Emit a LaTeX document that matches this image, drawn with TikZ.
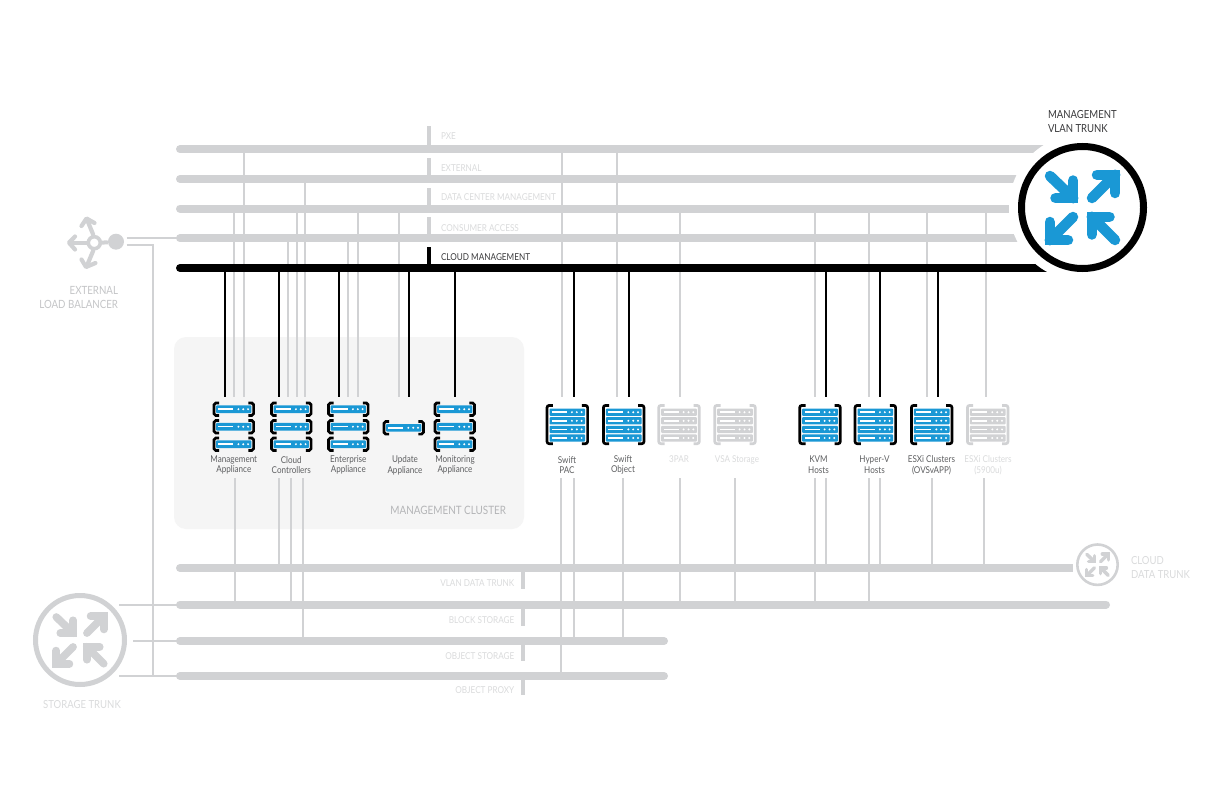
\documentclass[tikz,border=0pt]{standalone}
\usepackage{fontspec}
\setmainfont[FakeStretch=0.86]{Lato}
\definecolor{bargray}{HTML}{D1D2D4}
\definecolor{pale}{HTML}{DADBDC}
\definecolor{midgray}{HTML}{C4C5C7}
\definecolor{clustertxt}{HTML}{B4B5B7}
\definecolor{dark}{HTML}{3A3A3C}
\definecolor{srvtxt}{HTML}{5E5F61}
\definecolor{blue}{HTML}{1A98D5}
\definecolor{panel}{HTML}{F5F5F5}
\tikzset{
  busline/.style={line width=8pt,line cap=round,color=bargray},
  blackbus/.style={busline,color=black},
  glink/.style={line width=2pt,color=bargray},
  blink/.style={line width=2pt,color=black},
  tab/.style={line width=4pt,color=bargray},
  srvbox/.style={minimum width=40pt,minimum height=81pt,inner sep=0pt,outer sep=0pt},
  txt/.style={inner sep=0pt,outer sep=0pt,font=\fontsize{9.5}{11}\selectfont},
  busL/.style={txt,anchor=base west,text=pale},
  busR/.style={txt,anchor=base east,text=pale},
  trunktxt/.style={txt,font=\fontsize{11.1}{14}\selectfont,align=left},
  srvtxtstyle/.style={inner sep=0pt,outer sep=0pt,align=center,font=\fontsize{9.4}{10.7}\selectfont,anchor=center}
}
% arrows of a trunk: #1 node, #2 scale, #3 colour
\newcommand\trunkarrows[3]{%
 \begin{scope}[shift={(#1)},scale=#2,color=#3,line width=#2*10.5pt,line cap=round,line join=miter]
  \draw (-32.5,-31.5) -- (-9.3,-9.3); \draw (-9.3,-27) -- (-9.3,-9.3) -- (-27,-9.3);
  \draw (9.5,-9.5) -- (32.7,-32.7);   \draw (14.5,-32.7) -- (32.7,-32.7) -- (32.7,-14.5);
  \draw (-9.5,9.5) -- (-32.7,32.7);   \draw (-14.5,32.7) -- (-32.7,32.7) -- (-32.7,14.5);
  \draw (32.5,32.5) -- (9.3,9.3);     \draw (9.3,27) -- (9.3,9.3) -- (27,9.3);
 \end{scope}}
% one bar with dash and dots
\newcommand\srvbar[5]{% x, y, halfwidth, halfheight, colour
 \fill[#5,rounded corners=0.8pt] (#1-#3,#2-#4) rectangle (#1+#3,#2+#4);
 \draw[white,line width=1.5pt] (#1-15.5,#2) -- (#1-0.5,#2);
 \fill[white] (#1+4.6,#2) circle (1.1) (#1+9.5,#2) circle (1.1) (#1+14.3,#2) circle (1.1);}
\newcommand\brackets[5]{% x, y, halfw, halfh, colour
 \draw[#5,line width=2.7pt,rounded corners=1.8pt] (#1-#3+5.2,#2-#4) -- (#1-#3,#2-#4) -- (#1-#3,#2+#4) -- (#1-#3+5.2,#2+#4);
 \draw[#5,line width=2.7pt,rounded corners=1.8pt] (#1+#3-5.2,#2-#4) -- (#1+#3,#2-#4) -- (#1+#3,#2+#4) -- (#1+#3-5.2,#2+#4);}
\newcommand\unit[2]{\brackets{#1}{#2}{19.8}{6.3}{black}\srvbar{#1}{#2}{17.6}{3.8}{blue}}
\newcommand\rack[4]{% name, x, bracket colour, bar colour
 \node[srvbox] (#1) at (#2,437.5) {};
 \draw[#3,line width=2.7pt,rounded corners=2.2pt] (#2-14.5,405.4) -- (#2-20.3,405.4) -- (#2-20.3,443.7) -- (#2-14.5,443.7);
 \draw[#3,line width=2.7pt,rounded corners=2.2pt] (#2+14.5,405.4) -- (#2+20.3,405.4) -- (#2+20.3,443.7) -- (#2+14.5,443.7);
 \srvbar{#2}{412.2}{17.8}{3.6}{#4}\srvbar{#2}{420.8}{17.8}{3.6}{#4}\srvbar{#2}{429.4}{17.8}{3.6}{#4}\srvbar{#2}{438}{17.8}{3.6}{#4}}
\newcommand\triple[2]{% name, x
 \node[srvbox] (#1) at (#2,437.5) {};
 \unit{#2}{409.2}\unit{#2}{426.7}\unit{#2}{444.2}}
\newcommand\gup[3]{\draw[glink] (#1,0 |- #2) -- (#1,0 |- #3.north);}
\newcommand\bup[2]{\draw[blink] (#1,0 |- cloud) -- (#1,0 |- #2.north);}
\newcommand\gdn[3]{\draw[glink] (#1,0 |- #2.south) -- (#1,0 |- #3);}
\begin{document}
\begin{tikzpicture}[x=1pt,y=-1pt]
\useasboundingbox (0,0) rectangle (1224,792);
\fill[white] (0,0) rectangle (1224,792);
% cluster panel
\fill[panel,rounded corners=12pt] (174,337) rectangle (524,529);
\node[txt,anchor=base east,text=clustertxt,font=\fontsize{11.5}{12}\selectfont] (clusterlbl) at (506,514) {MANAGEMENT CLUSTER};
% bus anchors
\coordinate (pxe) at (180,149.3);
\coordinate (ext) at (180,179);
\coordinate (dcm) at (180,208.5);
\coordinate (con) at (180,238.3);
\coordinate (cloud) at (180,268);
\coordinate (vlan) at (180,568);
\coordinate (block) at (180,604.5);
\coordinate (obj) at (180,641);
\coordinate (proxy) at (180,676);
\coordinate (vlanE) at (1069,568);
\coordinate (blockE) at (1106,604.5);
\coordinate (objE) at (664,641);
\coordinate (proxyE) at (664,676);
\coordinate (mgmtc) at (1082.5,207.5);
% servers
\triple{mgmt}{233.8}
\triple{ctrl}{291.3}
\triple{entr}{348.3}
\node[srvbox] (upd) at (403.7,437.5) {};
\unit{403.7}{427.8}
\triple{mon}{454.7}
\rack{swpac}{567.3}{black}{blue}
\rack{swobj}{623.7}{black}{blue}
\rack{tpar}{679}{bargray}{bargray}
\rack{vsa}{735}{bargray}{bargray}
\rack{kvm}{820}{black}{blue}
\rack{hyv}{875.3}{black}{blue}
\rack{esx}{931.7}{black}{blue}
\rack{esy}{987.7}{bargray}{bargray}
% server labels
\node[srvtxtstyle,text=srvtxt] (l1) at (233.8,465) {Management\\Appliance};
\node[srvtxtstyle,text=srvtxt] (l2) at (291.3,465) {Cloud\\Controllers};
\node[srvtxtstyle,text=srvtxt] (l3) at (348.3,465) {Enterprise\\Appliance};
\node[srvtxtstyle,text=srvtxt] (l4) at (405,465) {Update\\Appliance};
\node[srvtxtstyle,text=srvtxt] (l5) at (455,465) {Monitoring\\Appliance};
\node[srvtxtstyle,text=srvtxt] (l6) at (567,465) {Swift\\PAC};
\node[srvtxtstyle,text=srvtxt] (l7) at (623,465) {Swift\\Object};
\node[srvtxtstyle,text=pale] (l8) at (679,459.6) {3PAR};
\node[srvtxtstyle,text=pale] (l9) at (737,459.6) {VSA Storage};
\node[srvtxtstyle,text=srvtxt] (l10) at (818.5,465) {KVM\\Hosts};
\node[srvtxtstyle,text=srvtxt] (l11) at (874.5,465) {Hyper-V\\Hosts};
\node[srvtxtstyle,text=srvtxt] (l12) at (931.5,465) {ESXi Clusters\\(OVSvAPP)};
\node[srvtxtstyle,text=pale] (l13) at (988,465) {ESXi Clusters\\(5900u)};
% upper grey connectors
\gup{244}{pxe}{mgmt}\gup{234}{dcm}{mgmt}
\gup{305}{ext}{ctrl}\gup{296.7}{dcm}{ctrl}\gup{287.7}{con}{ctrl}
\gup{348.3}{con}{entr}\gup{358}{dcm}{entr}
\gup{399}{dcm}{upd}
\gup{562}{pxe}{swpac}\gup{617}{pxe}{swobj}
\gup{680}{dcm}{tpar}
\gup{815}{dcm}{kvm}\gup{869.3}{dcm}{hyv}\gup{927.3}{dcm}{esx}\gup{985.7}{dcm}{esy}
% lower grey connectors
\gdn{235}{mgmt}{block}
\gdn{279.3}{ctrl}{vlan}\gdn{291}{ctrl}{block}\gdn{302.7}{ctrl}{obj}
\gdn{560.7}{swpac}{proxy}\gdn{573.7}{swpac}{obj}\gdn{623}{swobj}{obj}
\gdn{680}{tpar}{block}\gdn{734.7}{vsa}{block}
\gdn{815}{kvm}{block}\gdn{825.7}{kvm}{vlan}
\gdn{869}{hyv}{block}\gdn{879.7}{hyv}{vlan}
\gdn{931.7}{esx}{vlan}\gdn{984.3}{esy}{vlan}
% buses
\draw[busline] (pxe) -- (pxe -| mgmtc);
\draw[busline] (ext) -- (ext -| mgmtc);
\draw[busline] (dcm) -- (dcm -| mgmtc);
\draw[busline] (con) -- (con -| mgmtc);
\draw[busline] (vlan) -- (1000,568);
\draw[busline,line cap=butt] (1000,568) -- (1073,568);
\draw[busline] (block) -- (blockE);
\draw[busline] (obj) -- (objE);
\draw[busline] (proxy) -- (proxyE);
% tabs upper
\draw[tab] (429.3,126) -- (429.3 ,0 |- pxe);
\draw[tab] (429.3,158) -- (429.3,0 |- ext);
\draw[tab] (429.3,188) -- (429.3,0 |- dcm);
\draw[tab] (429.3,217) -- (429.3,0 |- con);
\draw[tab,color=black] (429.3,247) -- (429.3,0 |- cloud);
% tabs lower
\draw[tab] (522.7,0 |- vlan) -- (522.7,589);
\draw[tab] (522.7,0 |- block) -- (522.7,626);
\draw[tab] (522.7,0 |- obj) -- (522.7,661);
\draw[tab] (522.7,0 |- proxy) -- (522.7,695);
% black connectors + bus
\bup{224.5}{mgmt}\bup{279}{ctrl}\bup{339}{entr}\bup{409}{upd}\bup{455}{mon}
\bup{574}{swpac}\bup{628.7}{swobj}\bup{825.7}{kvm}\bup{879.7}{hyv}\bup{938.3}{esx}
\draw[blackbus] (cloud) -- (cloud -| mgmtc);
% bus labels
\node[busL] (tpxe) at (441,139.5) {PXE};
\node[busL] (text) at (441,171) {EXTERNAL};
\node[busL] (tdcm) at (441,200.4) {DATA CENTER MANAGEMENT};
\node[busL] (tcon) at (441,231) {CONSUMER ACCESS};
\node[busL,text=dark] (tclo) at (441,260) {CLOUD MANAGEMENT};
\node[busR] (tvla) at (514.3,586) {VLAN DATA TRUNK};
\node[busR] (tblo) at (514.3,623.4) {BLOCK STORAGE};
\node[busR] (tobj) at (514.3,659) {OBJECT STORAGE};
\node[busR] (tpro) at (514.3,693.7) {OBJECT PROXY};
% management trunk
\fill[white] (mgmtc) circle (73.5);
\node[circle,draw=black,line width=7pt,minimum size=122pt,inner sep=0pt,fill=white] (mvt) at (mgmtc) {};
\trunkarrows{mvt}{1}{blue}
\node[trunktxt,anchor=north west,text=dark] (tmvt) at (1048,110) {MANAGEMENT\\VLAN TRUNK};
% storage trunk
\node[circle,draw=bargray,line width=5pt,minimum size=89pt,inner sep=0pt,fill=white] (stor) at (80,640) {};
\trunkarrows{stor}{0.73}{bargray}
\node[trunktxt,anchor=base,text=pale] (tstor) at (82,708.5) {STORAGE TRUNK};
\coordinate (s1) at (119.3,604.5);
\coordinate (s2) at (133,641);
\coordinate (s3) at (119.3,676);
\draw[glink] (s1) -- (block);
\draw[glink] (s2) -- (obj);
\draw[glink] (s3) -- (proxy);
% cloud trunk
\node[circle,draw=bargray,line width=2.6pt,minimum size=40.4pt,inner sep=0pt,fill=white] (cdt) at (1097.5,564.7) {};
\trunkarrows{cdt}{0.33}{bargray}
\node[trunktxt,anchor=north west,text=pale] (tcdt) at (1131,556) {CLOUD\\DATA TRUNK};
% load balancer
\node[circle,fill=bargray,minimum size=16pt,inner sep=0pt] (lbd) at (116,241.7) {};
\node[circle,draw=bargray,line width=3.6pt,minimum size=12pt,inner sep=0pt,fill=white] (lbr) at (94.3,242.7) {};
\draw[bargray,line width=4pt] (lbr) ++(7,0) -- (lbd);
\begin{scope}[color=bargray,line width=4.2pt,line cap=round,line join=round]
 \draw (lbr.west) -- (70,242.7); \draw (75,236.5) -- (69,242.7) -- (75,249.5);
 \draw (lbr.north) ++(-1,0) -- (86.8,219); \draw (81.5,226) -- (86.5,218.5) -- (94.5,223);
 \draw (lbr.south) ++(-1,0) -- (86.8,266); \draw (81.5,259.5) -- (86,267) -- (95.5,263);
\end{scope}
\coordinate (lbA) at (126.7,238.3);
\coordinate (lbB) at (126.7,245);
\coordinate (sv) at (152.7,676);
\draw[glink] (lbA) -- (lbA -| con);
\draw[glink] (lbB) -| (sv);
\node[txt,anchor=north east,align=right,text=midgray,font=\fontsize{11.3}{14}\selectfont] (tlb) at (118,286.5) {EXTERNAL\\LOAD BALANCER};
\end{tikzpicture}
\end{document}
